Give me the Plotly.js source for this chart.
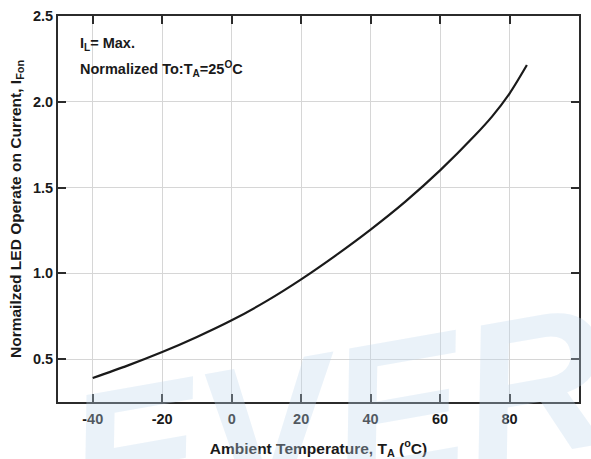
<!DOCTYPE html>
<html>
<head>
<meta charset="utf-8">
<script src="https://cdn.plot.ly/plotly-3.0.1.min.js"></script>
<style>html,body{margin:0;padding:0;background:#fff;}#chart{width:591px;height:459px;}</style>
</head>
<body>
<div id="chart"></div>
<script>
const temperature = [-40, -30, -20, -10, 0, 10, 20, 30, 40, 50, 60, 70, 75, 80, 85];
const normalizedCurrent = [0.390, 0.462, 0.541, 0.629, 0.726, 0.838, 0.965, 1.105, 1.255, 1.418, 1.600, 1.803, 1.915, 2.048, 2.214];
const xTicks = [-40, -20, 0, 20, 40, 60, 80, 100];
const yTicks = [0.5, 1.0, 1.5, 2.0, 2.5];

const FONT = 'Liberation Sans, Arial, sans-serif';

const trace = {
  x: temperature,
  y: normalizedCurrent,
  type: 'scatter',
  mode: 'lines',
  line: {color: '#1a1a1a', width: 2.2, shape: 'spline', smoothing: 0.8},
  hoverinfo: 'skip'
};

const axisCommon = {
  showline: true,
  linecolor: '#2b2b2b',
  linewidth: 2,
  mirror: 'ticks',
  ticks: 'inside',
  ticklen: 8,
  tickwidth: 2,
  tickcolor: '#2b2b2b',
  showgrid: true,
  gridcolor: '#d6d6d6',
  gridwidth: 1,
  zeroline: false,
  tickfont: {family: FONT, size: 14.5, color: '#1a1a1a', weight: 'bold'},
  automargin: false
};

const layout = {
  width: 591,
  height: 459,
  margin: {l: 58, r: 12, t: 16, b: 57},
  paper_bgcolor: '#ffffff',
  plot_bgcolor: 'rgba(0,0,0,0)',
  showlegend: false,
  xaxis: Object.assign({}, axisCommon, {
    range: [-50, 100],
    tickmode: 'array',
    tickvals: xTicks,
    ticktext: xTicks.map(String),
    ticklabelstandoff: 3,
    title: {text: 'Ambient Temperature, T<sub>A</sub> (<sup>o</sup>C)', font: {family: FONT, size: 15.5, color: '#1a1a1a', weight: 'bold'}, standoff: 18}
  }),
  yaxis: Object.assign({}, axisCommon, {
    range: [0.25, 2.5],
    tickmode: 'array',
    tickvals: yTicks,
    ticktext: yTicks.map(v => v.toFixed(1)),
    title: {text: 'Normailzed LED Operate on Current, I<sub>Fon</sub>', font: {family: FONT, size: 15.5, color: '#1a1a1a', weight: 'bold'}, standoff: 8}
  }),
  annotations: [
    {
      text: 'EVERLIGHT', xref: 'paper', yref: 'paper', x: -0.02, y: -0.46,
      xanchor: 'left', yanchor: 'bottom', showarrow: false, textangle: -10,
      font: {family: FONT, size: 200, color: 'rgba(190,215,238,0.33)', weight: 'bold', style: 'italic'}
    },
    {
      text: 'I<sub>L</sub>= Max.', xref: 'paper', yref: 'paper', x: 0.038, y: 0.928,
      xanchor: 'left', yanchor: 'middle', showarrow: false,
      font: {family: FONT, size: 14.5, color: '#1a1a1a', weight: 'bold'}
    },
    {
      text: 'Normalized To:T<sub>A</sub>=25<sup>O</sup>C', xref: 'paper', yref: 'paper', x: 0.038, y: 0.863,
      xanchor: 'left', yanchor: 'middle', showarrow: false,
      font: {family: FONT, size: 14.5, color: '#1a1a1a', weight: 'bold'}
    }
  ]
};

Plotly.newPlot('chart', [trace], layout, {displayModeBar: false, staticPlot: true});
</script>
</body>
</html>
